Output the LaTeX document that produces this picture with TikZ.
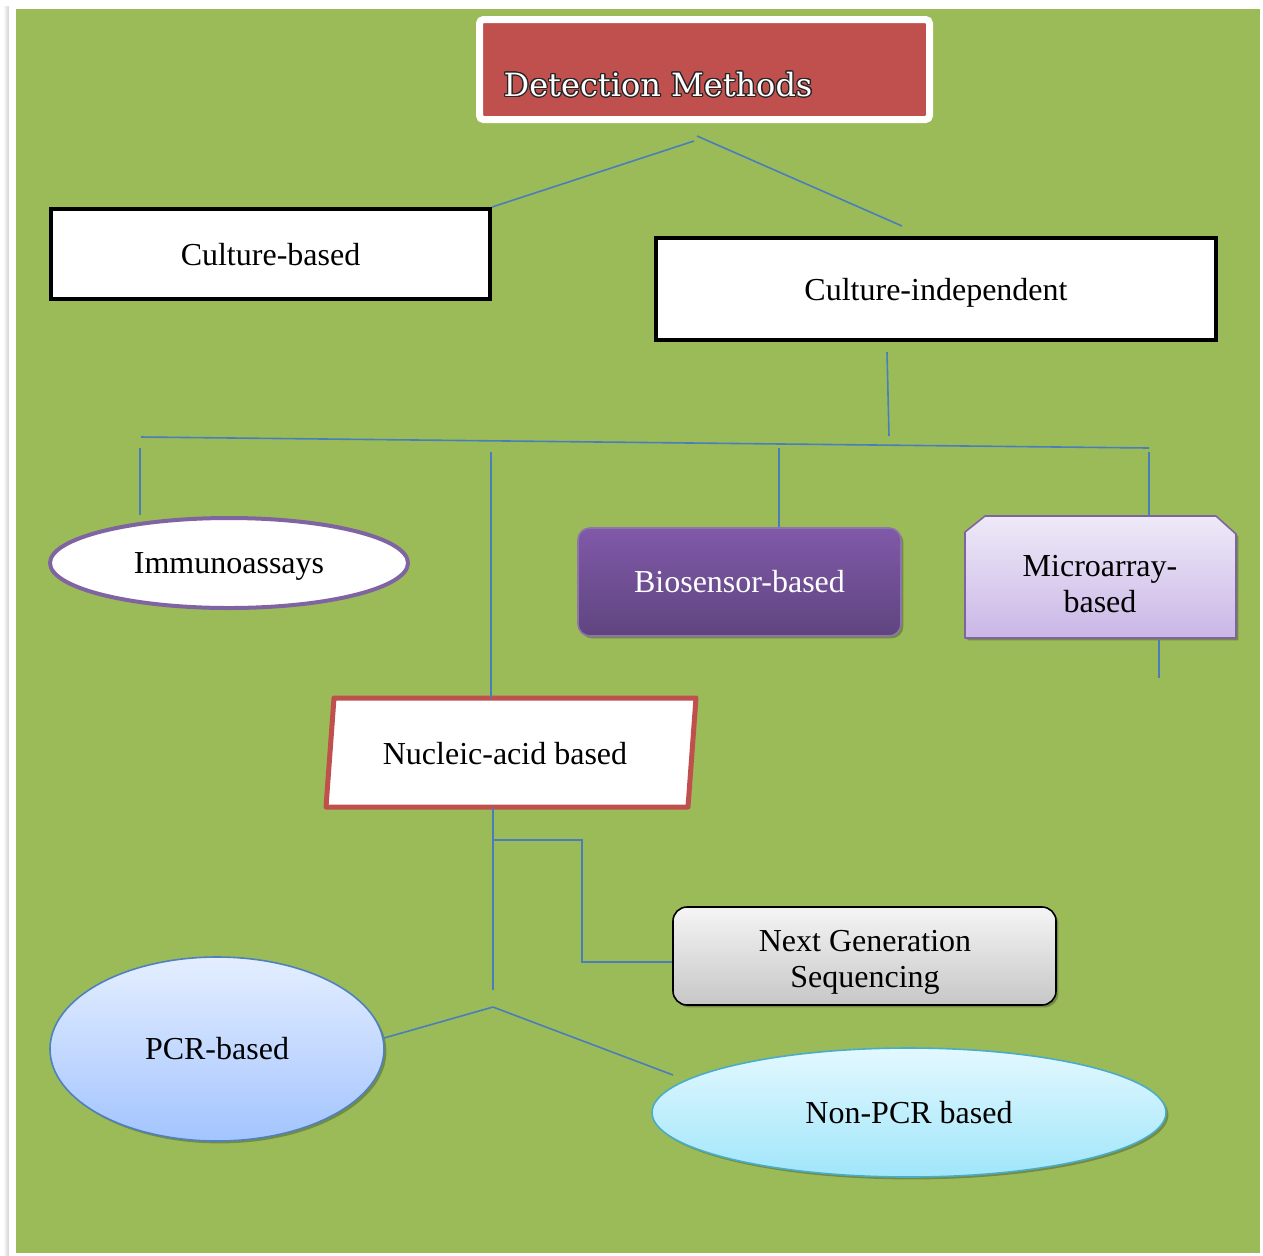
\documentclass[tikz,border=0pt]{standalone}
\usepackage{fontspec}
\setmainfont{Liberation Serif}
\newfontfamily\dmfont{DejaVu Serif}
\usepackage{contour}
\contourlength{0.6pt}
\usetikzlibrary{shapes.geometric,shadows}
\definecolor{bg}{HTML}{9BBB59}
\definecolor{dmred}{HTML}{C0504D}
\definecolor{conn}{HTML}{4A7EBB}
\definecolor{purp}{HTML}{8064A2}
\definecolor{blueb}{HTML}{4F81BD}
\definecolor{aqua}{HTML}{4BACC6}
\definecolor{pcrtop}{HTML}{E4EEFF}
\definecolor{pcrbot}{HTML}{A3C4FF}
\definecolor{nptop}{HTML}{E3F8FF}
\definecolor{npbot}{HTML}{A0E6FA}
\definecolor{mitop}{HTML}{EEEAF8}
\definecolor{mibot}{HTML}{CAB6E6}
\definecolor{biotop}{HTML}{8059A8}
\definecolor{biobot}{HTML}{5F4580}
\tikzset{
  lbl/.style={font=\fontsize{16}{18}\selectfont, align=center, inner sep=0pt},
  sh/.style={drop shadow={shadow xshift=1.2pt, shadow yshift=-1.2pt, opacity=0.25, fill=black}},
  plainbox/.style={draw=black, line width=2pt, fill=white, inner sep=0pt, text depth=0pt, font=\fontsize{16}{18}\selectfont},
  conline/.style={draw=conn, line width=0.8pt},
}
\begin{document}
\begin{tikzpicture}[x=0.5pt,y=-0.5pt]
\useasboundingbox (0,0) rectangle (1263,1255);
\fill[white] (0,0) rectangle (1263,1255);
\shade[left color=white, right color=black!18] (3,6) rectangle (9,1255);
\fill[white] (9,2) rectangle (1263,1255);
\fill[bg] (16,9) rectangle (1260,1253);

% title
\node[sh, fill=dmred, draw=white, line width=3.5pt, rounded corners=2pt,
      minimum width=225pt, minimum height=50pt, inner sep=0pt] (dm) at (704.5,69.5) {};
\node[font=\dmfont\fontsize{16}{18}\selectfont, inner sep=0pt] (dmlabel) at (658,85)
      {\contour{black!85}{\textcolor{white}{Detection Methods}}};

% level 1
\node[plainbox, minimum width=219.5pt, minimum height=45pt] (cb) at (270.5,254) {Culture-based};
\node[plainbox, minimum width=280pt, minimum height=51pt] (ci) at (936,289) {Culture-independent};

% level 2
\node[ellipse, draw=purp, line width=2pt, fill=white, inner sep=0pt, text depth=0pt,
      minimum width=179pt, minimum height=45pt, font=\fontsize{16}{18}\selectfont] (imm) at (229,563) {Immunoassays};
\node[sh, rounded corners=6pt, draw=purp!90!white, line width=0.8pt,
      top color=biotop, bottom color=biobot,
      minimum width=161.5pt, minimum height=54pt, inner sep=0pt,
      text=white, font=\fontsize{16}{18}\selectfont] (bio) at (739.5,582) {Biosensor-based};

% microarray (top corners cut)
\node[minimum width=135.5pt, minimum height=61pt, inner sep=0pt, outer sep=0pt] (micro) at (1100.5,577) {};
\draw[sh, draw=purp, line width=0.8pt, top color=mitop, bottom color=mibot, line join=round]
  ([yshift=-8pt]micro.north west) -- ([xshift=10pt]micro.north west) -- ([xshift=-10pt]micro.north east)
  -- ([yshift=-9pt]micro.north east) -- (micro.south east) -- (micro.south west) -- cycle;
\node[lbl] (microlbl) at (1100,584) {Microarray-\\based};

% nucleic acid (parallelogram)
\node[minimum width=185pt, minimum height=54.5pt, inner sep=0pt, outer sep=0pt] (nuc) at (511,752.5) {};
\draw[draw=dmred, line width=2.5pt, fill=white, line join=round]
  ([xshift=4pt]nuc.north west) -- (nuc.north east) -- ([xshift=-4pt]nuc.south east) -- (nuc.south west) -- cycle;
\node[lbl] (nuclbl) at (505,754) {Nucleic-acid based};

% level 3
\node[sh, rounded corners=7pt, draw=black, line width=0.8pt,
      top color=black!4, bottom color=black!22,
      minimum width=191.5pt, minimum height=49pt, inner sep=0pt] (ngs) at (864.5,956) {};
\node[lbl] (ngslbl) at (865,962) {Next Generation\\Sequencing};
\node[sh, ellipse, draw=blueb, line width=0.8pt, top color=pcrtop, bottom color=pcrbot,
      minimum width=167pt, minimum height=92pt, inner sep=0pt, font=\fontsize{16}{18}\selectfont] (pcr) at (217,1049) {PCR-based};
\node[sh, ellipse, draw=aqua, line width=0.8pt, top color=nptop, bottom color=npbot,
      minimum width=257pt, minimum height=64.5pt, inner sep=0pt, font=\fontsize{16}{18}\selectfont] (npcr) at (909,1112.5) {Non-PCR based};

% connector coordinates
\coordinate (t1) at (694,141);
\coordinate (t2) at (697,136);
\coordinate (t3) at (902,226);
\coordinate (u1) at (887,352);
\coordinate (u2) at (889,436);
\coordinate (hL) at (141,437);
\coordinate (hR) at (1149,448);
\coordinate (d1) at (140,448);
\coordinate (d1e) at (140,515);
\coordinate (d2) at (491,452);
\coordinate (d3) at (779,448);
\coordinate (d4) at (1149,452);
\coordinate (m1) at (1159,640);
\coordinate (m2) at (1159,678);
\coordinate (n1) at (493,808);
\coordinate (n2) at (493,990);
\coordinate (nb) at (493,840);
\coordinate (nv) at (493,1007);
\coordinate (pe) at (384,1038);
\coordinate (ne) at (673,1075);

\draw[conline] (t1) -- (cb.north east);
\draw[conline] (t2) -- (t3);
\draw[conline] (u1) -- (u2);
\draw[conline] (hL) -- (hR);
\draw[conline] (d1) -- (d1e);
\draw[conline] (d2) -- (d2 |- nuc.north);
\draw[conline] (d3) -- (d3 |- bio.north);
\draw[conline] (d4) -- (d4 |- micro.north);
\draw[conline] (m1) -- (m2);
\draw[conline] (n1) -- (n2);
\draw[conline] (nb) -- (582,840) -- (582,962) -- (ngs.west |- 582,962);
\draw[conline] (nv) -- (pe);
\draw[conline] (nv) -- (ne);
\end{tikzpicture}
\end{document}
